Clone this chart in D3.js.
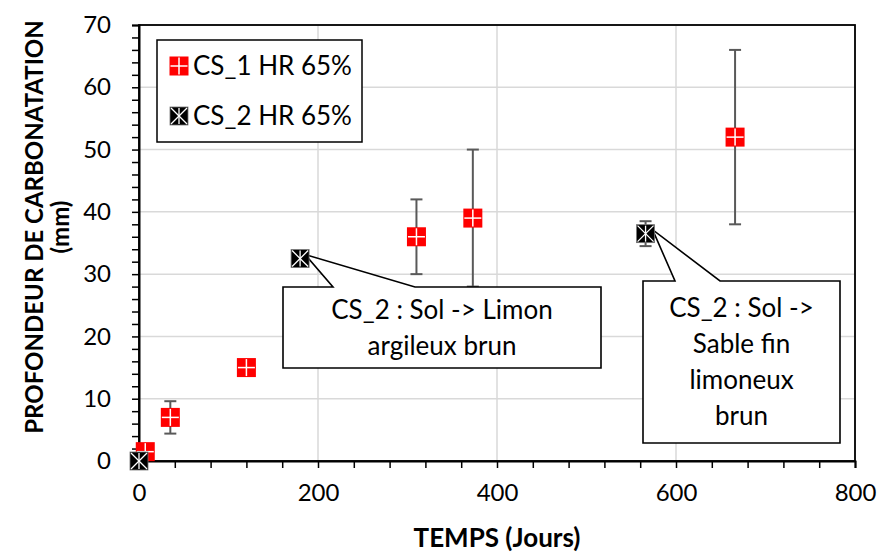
<!DOCTYPE html>
<html><head><meta charset="utf-8">
<script src="https://cdn.jsdelivr.net/npm/d3@7"></script>
<style>body{margin:0;background:#fff}svg{display:block}text{font-family:Lato,"Open Sans",sans-serif}</style>
</head><body><svg id="c" width="880" height="553"></svg>
<script>
const cs1Days = [7, 35, 120, 310, 373, 666];
const cs1Depth = [1.5, 7, 15, 36, 39, 52];
const cs1Err = [0, 2.6, 0, 6, 11, 14];
const cs2Days = [0, 180, 566];
const cs2Depth = [0, 32.5, 36.5];
const cs2Err = [0, 0, 2];
const xTicks = [0, 200, 400, 600, 800];
const yTicks = [0, 10, 20, 30, 40, 50, 60, 70];
const seriesNames = ["CS_1 HR 65%", "CS_2 HR 65%"];
const note1 = ["CS_2 : Sol -> Limon", "argileux brun"];
const note2 = ["CS_2 : Sol ->", "Sable fin", "limoneux", "brun"];

const svg = d3.select("#c");
const L = 139, R = 855, T = 25, B = 461;
const x = d3.scaleLinear().domain([0, 800]).range([L, R]);
const y = d3.scaleLinear().domain([0, 70]).range([B, T]);

// gridlines
svg.append("g").selectAll("line").data(yTicks).join("line")
  .attr("x1", L).attr("x2", R).attr("y1", d => y(d)).attr("y2", d => y(d))
  .attr("stroke", "#d9d9d9").attr("stroke-width", 1.5);
svg.append("g").selectAll("line").data(xTicks).join("line")
  .attr("y1", T).attr("y2", B).attr("x1", d => x(d)).attr("x2", d => x(d))
  .attr("stroke", "#d9d9d9").attr("stroke-width", 1.5);

// border
svg.append("rect").attr("x", L).attr("y", T).attr("width", R - L).attr("height", B - T)
  .attr("fill", "none").attr("stroke", "#000").attr("stroke-width", 1.8);

// axes
const xAxis = d3.axisBottom(x).tickValues(d3.range(0, 801, 40)).tickSize(7).tickFormat(d => xTicks.includes(d) ? d : "");
const gx = svg.append("g").attr("transform", `translate(0,${B})`).call(xAxis);
gx.select(".domain").attr("stroke", "#000").attr("stroke-width", 2);
gx.selectAll(".tick line").attr("stroke", "#000").attr("stroke-width", 1.5);
gx.selectAll("text").attr("font-size", 24).attr("fill", "#000").attr("dy", "1.25em").attr("font-family", "Lato");

const yAxis = d3.axisLeft(y).tickValues(d3.range(0, 71, 2)).tickSize(7).tickFormat(d => yTicks.includes(d) ? d : "");
const gy = svg.append("g").attr("transform", `translate(${L},0)`).call(yAxis);
gy.select(".domain").attr("stroke", "#000").attr("stroke-width", 2);
gy.selectAll(".tick line").attr("stroke", "#000").attr("stroke-width", 1.5);
gy.selectAll("text").attr("font-size", 24).attr("fill", "#000").attr("x", -28).attr("font-family", "Lato");

// axis titles
svg.append("text").attr("x", (L + R) / 2).attr("y", 547).attr("text-anchor", "middle")
  .attr("font-size", 26).attr("font-weight", "bold").text("TEMPS (Jours)");
const yt = svg.append("text").attr("transform", "translate(35,227) rotate(-90)").attr("text-anchor", "middle")
  .attr("font-size", 24).attr("font-weight", "bold");
yt.append("tspan").attr("x", 0).attr("dy", "0.35em").text("PROFONDEUR DE CARBONATATION");
yt.append("tspan").attr("x", 0).attr("dy", "1.05em").text("(mm)");

// callouts
function callout(anchor, box, base, lines, lineH) {
  const [ax, ay] = anchor;
  const p = `M${box.x0},${box.y0} L${base[0]},${box.y0} L${ax},${ay} L${base[1]},${box.y0} L${box.x1},${box.y0} L${box.x1},${box.y1} L${box.x0},${box.y1} Z`;
  svg.append("path").attr("d", p).attr("fill", "#fff").attr("stroke", "#000").attr("stroke-width", 1.6);
  const cx = (box.x0 + box.x1) / 2, cy = (box.y0 + box.y1) / 2;
  lines.forEach((t, i) => {
    svg.append("text").attr("x", cx).attr("y", cy + (i - (lines.length - 1) / 2) * lineH)
      .attr("dy", "0.35em").attr("text-anchor", "middle").attr("font-size", 26).text(t);
  });
}

// error bars
function errBars(xs, ys, es) {
  const g = svg.append("g");
  xs.forEach((d, i) => {
    if (!es[i]) return;
    const px = x(d), y1 = y(ys[i] + es[i]), y0 = y(ys[i] - es[i]);
    g.append("line").attr("x1", px).attr("x2", px).attr("y1", y1).attr("y2", y0).attr("stroke", "#595959").attr("stroke-width", 2);
    [y1, y0].forEach(yy => g.append("line").attr("x1", px - 6).attr("x2", px + 6).attr("y1", yy).attr("y2", yy).attr("stroke", "#595959").attr("stroke-width", 2));
  });
}

const S = 19;
function redMarker(g, cx, cy) {
  g.append("rect").attr("x", cx - S / 2).attr("y", cy - S / 2).attr("width", S).attr("height", S).attr("fill", "#ff0000");
  g.append("line").attr("x1", cx - S / 2 + 1).attr("x2", cx + S / 2 - 1).attr("y1", cy).attr("y2", cy).attr("stroke", "#fff").attr("stroke-width", 1.5);
  g.append("line").attr("y1", cy - S / 2 + 1).attr("y2", cy + S / 2 - 1).attr("x1", cx).attr("x2", cx).attr("stroke", "#fff").attr("stroke-width", 1.5);
}
function blackMarker(g, cx, cy) {
  const s = 18;
  g.append("rect").attr("x", cx - s / 2).attr("y", cy - s / 2).attr("width", s).attr("height", s).attr("fill", "#000").attr("stroke", "#777").attr("stroke-width", 0.8);
  const h = s / 2 - 1;
  [[-h, -h, h, h], [-h, h, h, -h], [0, -h, 0, h]].forEach(l =>
    g.append("line").attr("x1", cx + l[0]).attr("y1", cy + l[1]).attr("x2", cx + l[2]).attr("y2", cy + l[3]).attr("stroke", "#fff").attr("stroke-width", 1.3));
}

errBars(cs1Days, cs1Depth, cs1Err);
errBars(cs2Days, cs2Depth, cs2Err);

callout([x(cs2Days[1]) + 5, y(cs2Depth[1]) - 4], {x0: 283, x1: 601, y0: 287, y1: 368}, [333, 415], note1, 36);
callout([x(cs2Days[2]) + 7, y(cs2Depth[2]) - 4], {x0: 643, x1: 840, y0: 281, y1: 443}, [675, 720], note2, 36);

const gm = svg.append("g");
cs1Days.forEach((d, i) => redMarker(gm, x(d), y(cs1Depth[i])));
cs2Days.forEach((d, i) => blackMarker(gm, x(d), y(cs2Depth[i])));

// legend
svg.append("rect").attr("x", 157).attr("y", 40).attr("width", 205).attr("height", 102)
  .attr("fill", "#fff").attr("stroke", "#000").attr("stroke-width", 1.5);
const lg = svg.append("g");
redMarker(lg, 179, 66);
blackMarker(lg, 179, 116);
[66, 116].forEach((yy, i) => svg.append("text").attr("x", 193).attr("y", yy).attr("dy", "0.35em").attr("font-size", 26).text(seriesNames[i]));
</script></body></html>
